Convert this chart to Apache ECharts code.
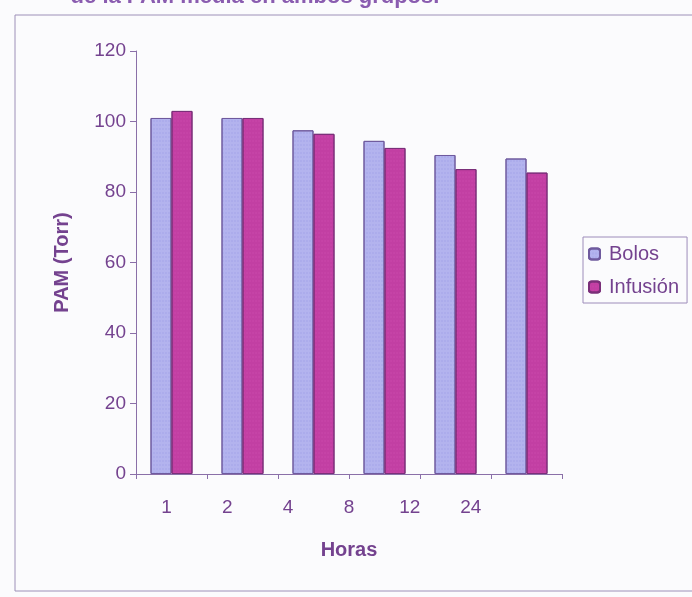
<!DOCTYPE html>
<html><head><meta charset="utf-8">
<script src="https://cdn.jsdelivr.net/npm/echarts@6/dist/echarts.min.js"></script>
<style>html,body{margin:0;padding:0;background:#fbfbfd}#c{width:692px;height:597px}</style>
</head><body><div id="c"></div>
<script>
var hours = ['1', '2', '4', '8', '12', '24'];
var groups = ['g1', 'g2', 'g3', 'g4', 'g5', 'g6'];
var bolos = [101, 101, 97.5, 94.5, 90.5, 89.5];
var infusion = [103, 101, 96.5, 92.5, 86.5, 85.5];
var yTicks = [0, 20, 40, 60, 80, 100, 120];

var txt = '#74428f';
var font = '"Liberation Sans", Arial, sans-serif';
var chart = echarts.init(document.getElementById('c'));
chart.setOption({
  backgroundColor: '#fbfbfd',
  animation: false,
  graphic: [
    { type: 'rect', shape: { x: 15, y: 15, width: 700, height: 576 }, style: { fill: 'none', stroke: '#9d90b8', lineWidth: 1 } },
    { type: 'text', x: 255, y: 8, style: { text: 'de la PAM media en ambos grupos.', font: 'bold 22px ' + font, fill: '#8a5cb0', align: 'center', verticalAlign: 'bottom' } }
  ],
  grid: { left: 136, right: 130, top: 51, bottom: 123 },
  legend: {
    orient: 'vertical', left: 583, top: 237,
    padding: [7, 8, 6, 5], itemGap: 13, itemWidth: 11, itemHeight: 11,
    borderColor: '#9d8cba', borderWidth: 1,
    textStyle: { color: txt, fontSize: 20, fontFamily: font, padding: [0, 0, 0, 4] },
    data: ['Bolos', 'Infusión']
  },
  xAxis: [
    { type: 'category', data: groups, position: 'bottom',
      axisLine: { lineStyle: { color: '#8a6fa8' } },
      axisTick: { show: true, length: 5, lineStyle: { color: '#8a6fa8' } },
      axisLabel: { show: false },
      name: 'Horas', nameLocation: 'middle', nameGap: 66,
      nameTextStyle: { color: txt, fontSize: 20, fontWeight: 'bold', fontFamily: font } },
    { type: 'category', data: hours.concat(['']), position: 'bottom',
      axisLine: { show: false }, axisTick: { show: false },
      axisLabel: { color: txt, fontSize: 19, fontFamily: font, margin: 24 } }
  ],
  yAxis: {
    type: 'value', min: yTicks[0], max: yTicks[yTicks.length - 1], interval: 20,
    splitLine: { show: false },
    axisLine: { show: true, lineStyle: { color: '#8a6fa8' } },
    axisTick: { show: true, length: 6, lineStyle: { color: '#8a6fa8' } },
    axisLabel: { color: txt, fontSize: 19, fontFamily: font, margin: 10 },
    name: 'PAM (Torr)', nameLocation: 'middle', nameGap: 64,
    nameTextStyle: { color: txt, fontSize: 20, fontWeight: 'bold', fontFamily: font }
  },
  series: [
    { name: 'Bolos', type: 'bar', xAxisIndex: 0, data: bolos, barWidth: 21, barGap: '0%',
      itemStyle: { color: '#b3b3ee', borderColor: '#6f5a9e', borderWidth: 1,
        decal: { symbol: 'rect', symbolSize: 0.6, dashArrayX: [2, 1], dashArrayY: [2, 2], color: 'rgba(120,120,220,0.35)' } } },
    { name: 'Infusión', type: 'bar', xAxisIndex: 0, data: infusion, barWidth: 21,
      itemStyle: { color: '#c23fa3', borderColor: '#7a2f79', borderWidth: 1,
        decal: { symbol: 'rect', symbolSize: 0.6, dashArrayX: [2, 1], dashArrayY: [2, 2], color: 'rgba(235,110,200,0.35)' } } }
  ]
});
</script></body></html>
